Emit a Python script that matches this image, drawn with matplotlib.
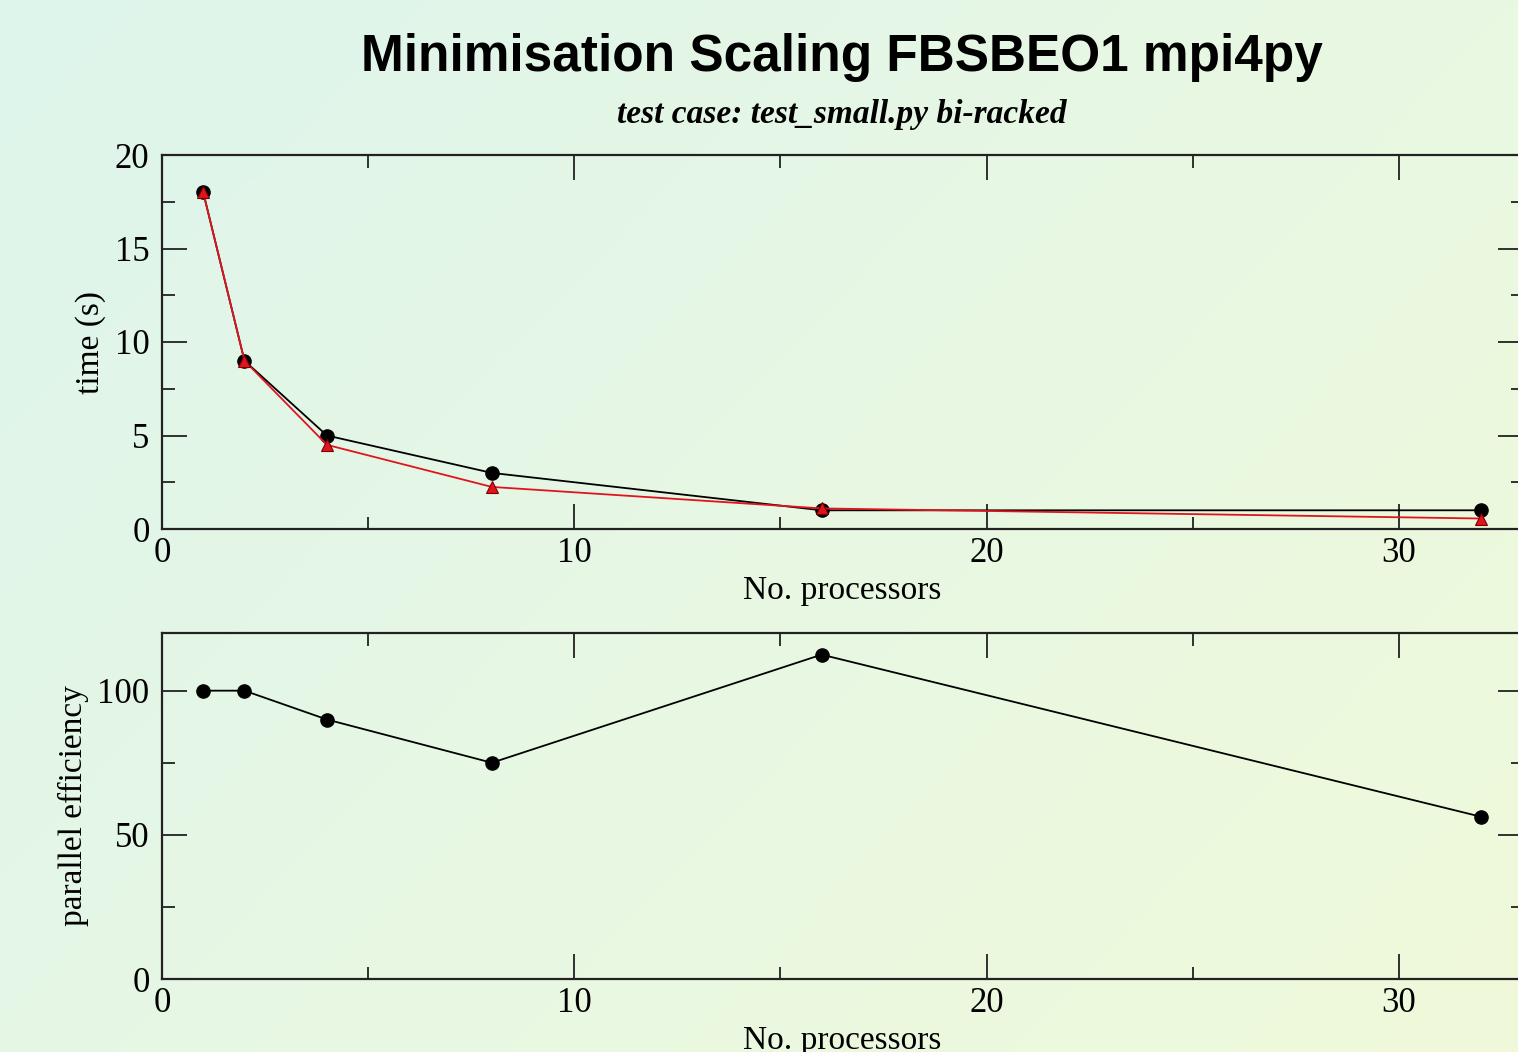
import numpy as np
import matplotlib
matplotlib.use("Agg")
import matplotlib.pyplot as plt
from matplotlib.ticker import MultipleLocator

# data
procs = [1, 2, 4, 8, 16, 32]
time_black = [18, 9, 5, 3, 1, 1]
time_red = [18, 9, 4.5, 2.25, 1.1, 0.56]
efficiency = [100, 100, 90, 75, 112.5, 56.25]

title = "Minimisation Scaling FBSBEO1 mpi4py"
subtitle = "test case: test_small.py bi-racked"

plt.rcParams['font.family'] = ['Liberation Serif', 'DejaVu Serif']

W, H = 1518, 1052
fig = plt.figure(figsize=(W / 100, H / 100), dpi=100)

# gradient background
bg = fig.add_axes([0, 0, 1, 1], zorder=-10)
c1 = np.array([222, 245, 236]) / 255.0
c2 = np.array([240, 250, 218]) / 255.0
yy, xx = np.mgrid[0:1:200j, 0:1:300j]
t = (xx * 0.6 + yy * 0.4)
img = c1[None, None, :] * (1 - t[..., None]) + c2[None, None, :] * t[..., None]
bg.imshow(img, aspect='auto', extent=[0, 1, 0, 1], origin='upper')
bg.axis('off')

left = 162 / W
width = (33 * 41.23) / W

ax1 = fig.add_axes([left, 1 - 529 / H, width, (529 - 155) / H])
ax2 = fig.add_axes([left, 1 - 979 / H, width, (979 - 633) / H])

ax1.plot(procs, time_black, color='black', lw=1.3, marker='o', ms=9.5, zorder=3)
ax1.plot(procs, time_red, color='#e0141e', lw=1.3, marker='^', ms=8,
         mec='#7a0000', mew=0.8, zorder=4)
ax1.set_ylim(0, 20)
ax1.yaxis.set_major_locator(MultipleLocator(5))
ax1.yaxis.set_minor_locator(MultipleLocator(2.5))
ax1.set_ylabel("time (s)", fontsize=24, labelpad=6)

ax2.plot(procs, efficiency, color='black', lw=1.3, marker='o', ms=9.5, zorder=3)
ax2.set_ylim(0, 120)
ax2.yaxis.set_major_locator(MultipleLocator(50))
ax2.yaxis.set_minor_locator(MultipleLocator(25))
ax2.set_ylabel("parallel efficiency", fontsize=24, labelpad=6)

for ax in (ax1, ax2):
    ax.set_facecolor('none')
    ax.set_xlim(0, 33)
    ax.xaxis.set_major_locator(MultipleLocator(10))
    ax.xaxis.set_minor_locator(MultipleLocator(5))
    ax.set_xlabel("No. processors", fontsize=24, labelpad=4)
    ax.tick_params(which='both', direction='in', top=True, right=True,
                   labelsize=25, width=1.3, color='#222222')
    ax.tick_params(which='major', length=18)
    ax.tick_params(axis='x', which='major', pad=6)
    ax.tick_params(axis='y', which='major', pad=9)
    ax.tick_params(which='minor', length=9)
    for s in ax.spines.values():
        s.set_linewidth(1.6)
        s.set_color('#222222')

fig.text(842 / W, 1 - 57 / H, title, ha='center', va='center',
         fontsize=37, fontweight='bold', family=['Liberation Sans', 'DejaVu Sans'])
fig.text(842 / W, 1 - 114 / H, subtitle, ha='center', va='center',
         fontsize=24, fontweight='bold', style='italic')

fig.savefig("out.png", dpi=100)
